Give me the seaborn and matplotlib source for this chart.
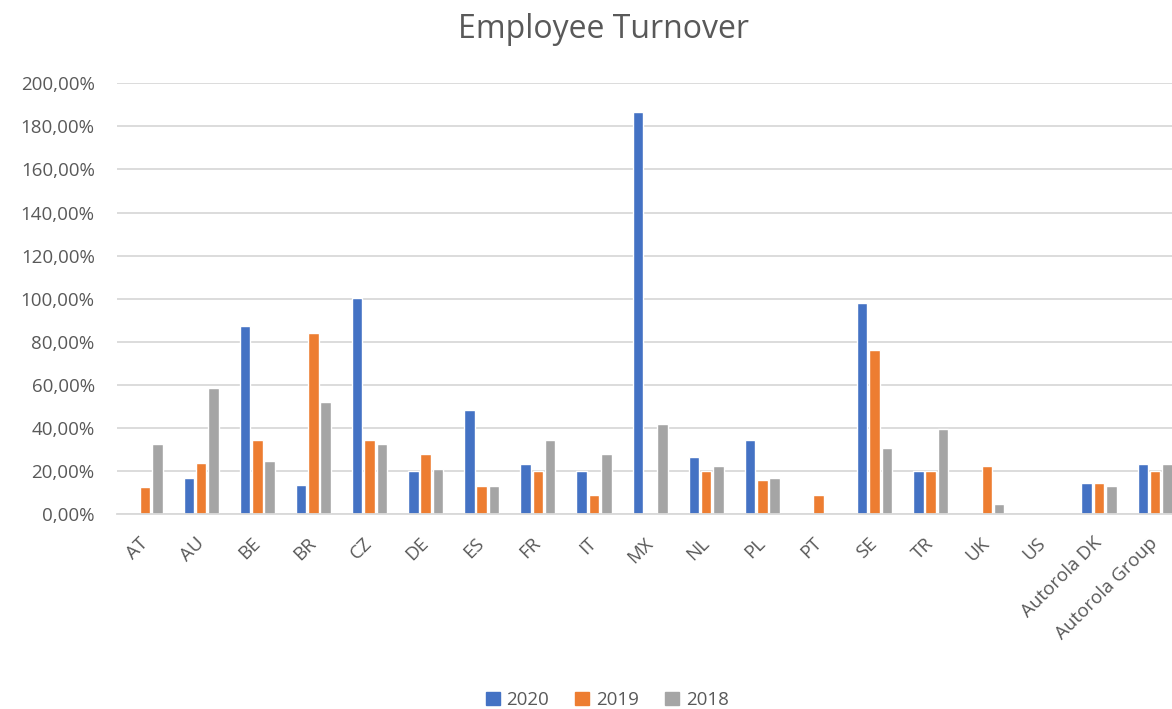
import matplotlib
matplotlib.use("Agg")
import matplotlib.pyplot as plt
import numpy as np
import pandas as pd
import seaborn as sns
from matplotlib.ticker import FuncFormatter

countries = ['AT', 'AU', 'BE', 'BR', 'CZ', 'DE', 'ES', 'FR', 'IT', 'MX', 'NL', 'PL',
             'PT', 'SE', 'TR', 'UK', 'US', 'Autorola DK', 'Autorola Group']
years = ['2020', '2019', '2018']
nan = np.nan
t2020 = [nan, 16.8, 87.2, 13.4, 100.4, 20.2, 48.2, 23.2, 19.8, 186.5, 26.4, 34.2,
         nan, 98.0, 19.8, nan, nan, 14.4, 23.2]
t2019 = [12.4, 23.5, 34.5, 84.0, 34.5, 28.0, 13.1, 19.8, 8.8, nan, 19.8, 15.6,
         8.8, 76.0, 19.8, 22.1, nan, 14.4, 19.8]
t2018 = [32.3, 58.6, 24.5, 51.9, 32.3, 21.1, 13.1, 34.2, 27.7, 41.7, 22.1, 16.5,
         nan, 30.7, 39.4, 4.5, nan, 13.1, 23.2]

data = pd.DataFrame({
    'country': countries * 3,
    'year': [y for y in years for _ in countries],
    'turnover': t2020 + t2019 + t2018,
}).dropna()

colors = ['#4472C4', '#ED7D31', '#A5A5A5']
grey_text = '#595959'

sns.set_style('white')
plt.rcParams['font.family'] = ['Open Sans', 'DejaVu Sans']

fig = plt.figure(figsize=(11.72, 7.09), dpi=100)
ax = fig.add_axes([0.0998, 0.275, 0.9002, 0.6075])

sns.barplot(data=data, x='country', y='turnover', hue='year', order=countries,
            hue_order=years, palette=colors, width=0.66, gap=0.15,
            errorbar=None, ax=ax, saturation=1)

ax.set_ylim(0, 200)
ax.set_xlim(-0.5, 18.3)
ax.set_yticks(np.arange(0, 201, 20))
ax.yaxis.set_major_formatter(FuncFormatter(lambda v, p: f"{v:.2f}%".replace('.', ',')))
ax.grid(axis='y', color='#D9D9D9', linewidth=1.3)
ax.set_axisbelow(True)
for s in ['top', 'right', 'left']:
    ax.spines[s].set_visible(False)
ax.spines['bottom'].set_color('#D9D9D9')
ax.spines['bottom'].set_linewidth(1.3)
ax.tick_params(axis='both', length=0, colors=grey_text, labelsize=13.5)
ax.tick_params(axis='y', pad=16)
ax.tick_params(axis='x', pad=19)
plt.setp(ax.get_xticklabels(), rotation=45, ha='right', va='center', rotation_mode='anchor')
ax.set_xlabel('')
ax.set_ylabel('')

fig.text(0.515, 1 - 29 / 709, 'Employee Turnover', ha='center', va='center',
         fontsize=23, color=grey_text)

ax.legend_.remove()
handles = [plt.Rectangle((0, 0), 1, 1, color=c) for c in colors]
fig.legend(handles, years, loc='center', bbox_to_anchor=(0.518, 1 - 700 / 709), ncol=3,
           frameon=False, handlelength=0.75, handleheight=0.75, handletextpad=0.35,
           columnspacing=1.4, labelcolor=grey_text, fontsize=13.5)

fig.savefig('out.png', dpi=100)
